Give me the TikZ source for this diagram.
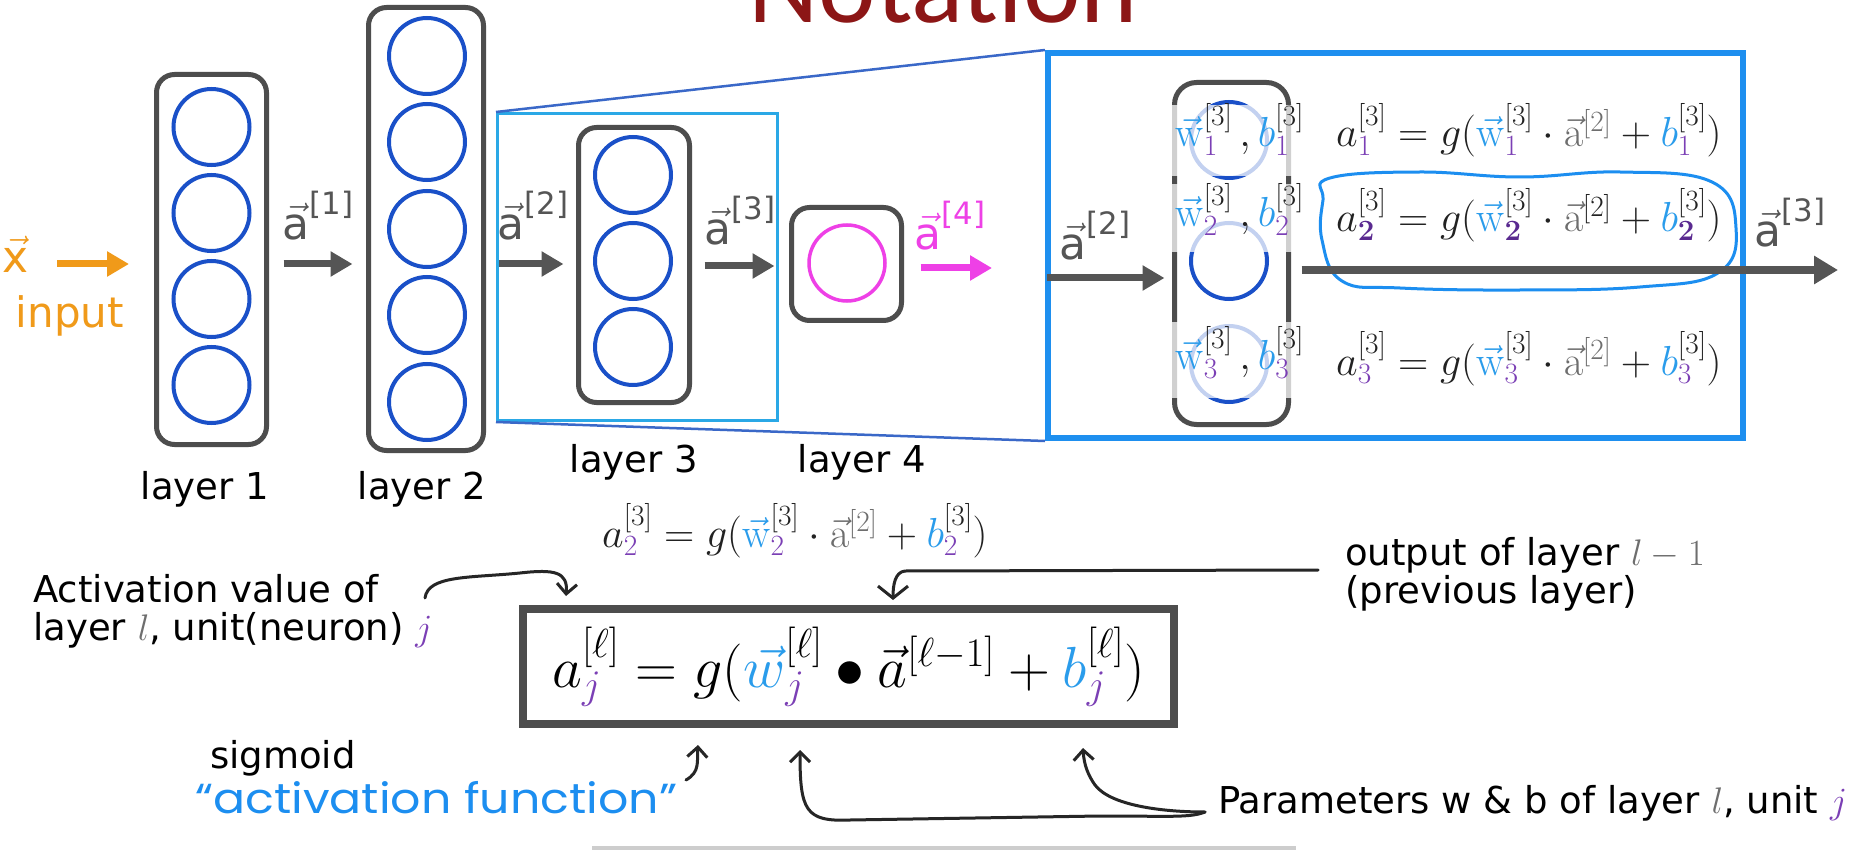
\RequirePackage{fix-cm}
\documentclass[tikz,border=0pt]{standalone}
\usepackage{amsmath}
\usepackage{graphicx}
\usepackage[no-math]{fontspec}
\setmainfont{DejaVu Sans}
\newfontfamily\titlefont{Carlito}
\newfontfamily\handfont{Poppins}
\usetikzlibrary{arrows.meta}
\definecolor{boxgray}{HTML}{4D4D4D}
\definecolor{arrgray}{HTML}{555555}
\definecolor{neuronblue}{HTML}{1A50C8}
\definecolor{inorange}{HTML}{F09A1A}
\definecolor{magen}{HTML}{EE40E6}
\definecolor{zoomcyan}{HTML}{2AA8E6}
\definecolor{zoomblue}{HTML}{1E8FEF}
\definecolor{linkblue}{HTML}{3A68C8}
\definecolor{purp}{HTML}{7B3FB5}
\definecolor{dpurp}{HTML}{5A2A90}
\definecolor{wblue}{HTML}{2A9CEB}
\definecolor{titlered}{HTML}{8C1616}
\definecolor{eqgray}{HTML}{222222}
\definecolor{lgray}{HTML}{6E6E6E}
\definecolor{handblue}{HTML}{1C8EF0}
\definecolor{barsgray}{HTML}{CDCDCD}
\newcommand{\vw}{\vec{\mathrm{w}}}
\newcommand{\va}{\vec{\mathrm{a}}}
\newcommand{\mypu}[1]{\textcolor{purp}{#1}}
\newcommand{\mybl}[1]{\textcolor{wblue}{#1}}
\begin{document}
\begin{tikzpicture}[x=1pt,y=-1pt,
  layerbox/.style={draw=boxgray,line width=5pt,rounded corners=18pt,inner sep=0pt},
  neuron/.style={circle,draw=neuronblue,line width=4pt,minimum size=76pt,inner sep=0pt},
  fatarrow/.style={draw=arrgray,line width=7pt,-{Triangle[length=22pt,width=24pt]}},
  lab/.style={font=\fontsize{37}{38}\selectfont,inner sep=0pt,anchor=base west},
  arrlab/.style={font=\fontsize{44}{48}\selectfont,text=arrgray,inner sep=0pt,anchor=base},
  eqn/.style={font=\fontsize{42}{46}\selectfont,text=eqgray,inner sep=0pt,anchor=base west},
  wbl/.style={font=\fontsize{42}{44}\selectfont,text=eqgray,inner sep=0pt,anchor=base west},
  hand/.style={draw=black!85,line width=3pt,line cap=round,line join=round},
  handtip/.style={-{Straight Barb[length=10pt,width=20pt]}}
]
\useasboundingbox (0,0) rectangle (1869,850);
\clip (0,0) rectangle (1869,850);
\fill[white] (0,0) rectangle (1869,850);

% title
\node[anchor=base west,inner sep=0pt,text=titlered,font=\titlefont\fontsize{109}{120}\selectfont] (title) at (748,23) {Notation};

% rows for arrows
\coordinate (r1) at (0,264);
\coordinate (r3) at (0,266);
\coordinate (r4) at (0,268);

% layers
\node[layerbox,minimum width=110pt,minimum height=370pt] (L1) at (211.5,259.5) {};
\foreach \y [count=\i] in {127,213,299,385} \node[neuron] (n1\i) at (211.5,\y) {};
\node[layerbox,minimum width=115pt,minimum height=443pt] (L2) at (426,229) {};
\foreach \y [count=\i] in {56,142,229,315,402} \node[neuron] (n2\i) at (427,\y) {};
\node[layerbox,minimum width=111pt,minimum height=275pt] (L3) at (634,265) {};
\foreach \y [count=\i] in {175,261,347} \node[neuron] (n3\i) at (633,\y) {};
\node[layerbox,minimum width=110pt,minimum height=113pt] (L4) at (846.5,264) {};
\node[neuron,draw=magen,line width=3.5pt] (n41) at (847,263) {};

% input
\node[arrlab,text=inorange] (xv) at (16,273) {$\vec{\text{x}}$};
\node[font=\fontsize{42}{44}\selectfont,text=inorange,inner sep=0pt,anchor=base] (inp) at (70,327) {input};
\coordinate (inS) at (57,264);
\draw[fatarrow,draw=inorange,shorten >=25pt] (inS) -- (L1.west |- r1);

% arrows between layers
\draw[fatarrow,shorten <=14.5pt,shorten >=13.5pt] (L1.east |- r1) -- (L2.west |- r1);
\draw[fatarrow,shorten <=11.5pt,shorten >=12.5pt] (L2.east |- r1) -- (L3.west |- r1);
\draw[fatarrow,shorten <=12.5pt,shorten >=14.5pt] (L3.east |- r3) -- (L4.west |- r3);
\coordinate (a4E) at (992,268);
\draw[fatarrow,draw=magen,shorten <=16.5pt] (L4.east |- r4) -- (a4E);

\node[arrlab] (la1) at (318,240) {$\vec{\text{a}}^{\text{[1]}}$};
\node[arrlab] (la2) at (533,240) {$\vec{\text{a}}^{\text{[2]}}$};
\node[arrlab] (la3) at (740,245) {$\vec{\text{a}}^{\text{[3]}}$};
\node[arrlab,text=magen] (la4) at (950,250) {$\vec{\text{a}}^{\text{[4]}}$};

\node[lab,anchor=base] (t1) at (205,499) {layer 1};
\node[lab,anchor=base] (t2) at (422,499) {layer 2};
\node[lab,anchor=base] (t3) at (634,472) {layer 3};
\node[lab,anchor=base] (t4) at (862,472) {layer 4};

% zoom frames
\node[draw=zoomcyan,line width=3pt,minimum width=280pt,minimum height=307pt,inner sep=0pt] (Z) at (637.5,267) {};
\node[draw=zoomblue,line width=6pt,minimum width=695pt,minimum height=385pt,inner sep=0pt] (B) at (1395.5,245.5) {};
\draw[linkblue,line width=2.5pt] (Z.north west) -- (B.north west);
\draw[linkblue,line width=2.5pt] (Z.south west) -- (B.south west);

% zoomed layer 3
\node[layerbox,rounded corners=22pt,minimum width=114pt,minimum height=342pt] (N) at (1231.5,253.5) {};
\node[neuron] (m1) at (1229,140) {};
\node[neuron] (m2) at (1229,261) {};
\node[neuron] (m3) at (1229,364) {};
\fill[white,opacity=0.74] (1164,105) rectangle (1322,176);
\fill[white,opacity=0.74] (1164,184) rectangle (1322,252);
\fill[white,opacity=0.74] (1164,322) rectangle (1322,398);

\node[wbl] (wb1) at (1175,147) {$\mybl{\vw}^{[3]}_{\mypu{1}}\,,\mybl{b}^{[3]}_{\mypu{1}}$};
\node[wbl] (wb2) at (1175,227) {$\mybl{\vw}^{[3]}_{\mypu{2}}\,,\mybl{b}^{[3]}_{\mypu{2}}$};
\node[wbl] (wb3) at (1175,370) {$\mybl{\vw}^{[3]}_{\mypu{3}}\,,\mybl{b}^{[3]}_{\mypu{3}}$};

\node[eqn] (e1) at (1336,147) {$a^{[3]}_{\mypu{1}}= g(\mybl{\vw}^{[3]}_{\mypu{1}}\cdot\textcolor{lgray}{\va^{[2]}}+\mybl{b}^{[3]}_{\mypu{1}})$};
\node[eqn] (e2) at (1336,232) {$a^{[3]}_{\textcolor{dpurp}{\mathbf{2}}}= g(\mybl{\vw}^{[3]}_{\textcolor{dpurp}{\mathbf{2}}}\cdot\textcolor{lgray}{\va}^{[2]}+\mybl{b}^{[3]}_{\textcolor{dpurp}{\mathbf{2}}})$};
\node[eqn] (e3) at (1336,375) {$a^{[3]}_{\mypu{3}}= g(\mybl{\vw}^{[3]}_{\mypu{3}}\cdot\textcolor{lgray}{\va^{[2]}}+\mybl{b}^{[3]}_{\mypu{3}})$};

\draw[handblue,line width=3pt] plot[smooth cycle,tension=0.7] coordinates {(1330,178) (1420,172) (1520,177) (1620,172) (1712,182) (1736,228) (1718,273) (1640,287) (1520,290) (1400,288) (1342,281) (1322,240) (1323,200)};

\node[arrlab] (lb2) at (1095,260) {$\vec{\text{a}}^{\text{[2]}}$};
\node[arrlab] (lb3) at (1790,247) {$\vec{\text{a}}^{\text{[3]}}$};
\coordinate (bin) at (0,278);
\coordinate (outE) at (1838,270);
\draw[fatarrow,shorten <=2pt,shorten >=7.5pt] (B.west |- bin) -- (N.west |- bin);
\draw[fatarrow,line width=8pt,-{Triangle[length=24pt,width=27pt]},shorten <=10.5pt] (N.east |- outE) -- (outE);

% bottom part
\node[eqn] (eb) at (602,547) {$a^{[3]}_{\mypu{2}}= g(\mybl{\vw}^{[3]}_{\mypu{2}}\cdot\textcolor{lgray}{\va^{[2]}}+\mybl{b}^{[3]}_{\mypu{2}})$};

\node[draw=boxgray,line width=8pt,minimum width=651pt,minimum height=115pt,inner sep=0pt,font=\fontsize{58}{64}\selectfont] (F) at (848.5,666.5)
  {$a^{[\ell]}_{\mypu{j}} = g(\mybl{\vec{w}}^{[\ell]}_{\mypu{j}} \bullet \vec{a}^{[\ell-1]} + \mybl{b}^{[\ell]}_{\mypu{j}})$};

\node[lab] (act1) at (33,602) {Activation value of};
\node[lab] (act2) at (33,640) {layer \textcolor{lgray}{$l$}, unit(neuron) \mypu{$j$}};
\node[lab] (out1) at (1345,565) {output of layer \textcolor{lgray}{$l-1$}};
\node[lab] (out2) at (1345,603) {(previous layer)};
\node[lab] (sig) at (210,768) {sigmoid};
\node[anchor=base west,inner sep=0pt,text=handblue,font=\handfont\fontsize{42}{46}\selectfont] (af) at (195,813) {\scalebox{1.13}[1]{“activation function”}};
\node[lab] (par) at (1218,813) {Parameters w \& b of layer \textcolor{lgray}{$l$}, unit \mypu{$j$}};

% hand-drawn arrows
\coordinate (h1s) at (425,598);
\coordinate (h1e) at (566,596);
\draw[hand,handtip] (h1s) .. controls (428,575) and (470,578) .. (520,573) .. controls (555,569) and (568,572) .. (h1e);
\coordinate (h2s) at (1318,570);
\coordinate (h2e) at (893,600);
\draw[hand,-{Straight Barb[length=12pt,width=30pt]}] (h2s) -- (905,571) .. controls (895,572) and (893,585) .. (h2e);
\coordinate (h3s) at (686,780);
\coordinate (h3e) at (698,745);
\draw[hand,handtip] (h3s) .. controls (700,772) and (697,762) .. (h3e);
\coordinate (h4s) at (1205,812);
\coordinate (h4e) at (800,750);
\draw[hand,handtip] (h4s) .. controls (1190,818) and (1170,816) .. (1100,816) -- (850,820) .. controls (805,822) and (800,810) .. (h4e);
\coordinate (h5e) at (1083,748);
\draw[hand,handtip] (h4s) .. controls (1160,812) and (1110,805) .. (1095,785) .. controls (1088,775) and (1084,765) .. (h5e);

\fill[barsgray] (592,846) rectangle (1296,850);
\end{tikzpicture}
\end{document}
